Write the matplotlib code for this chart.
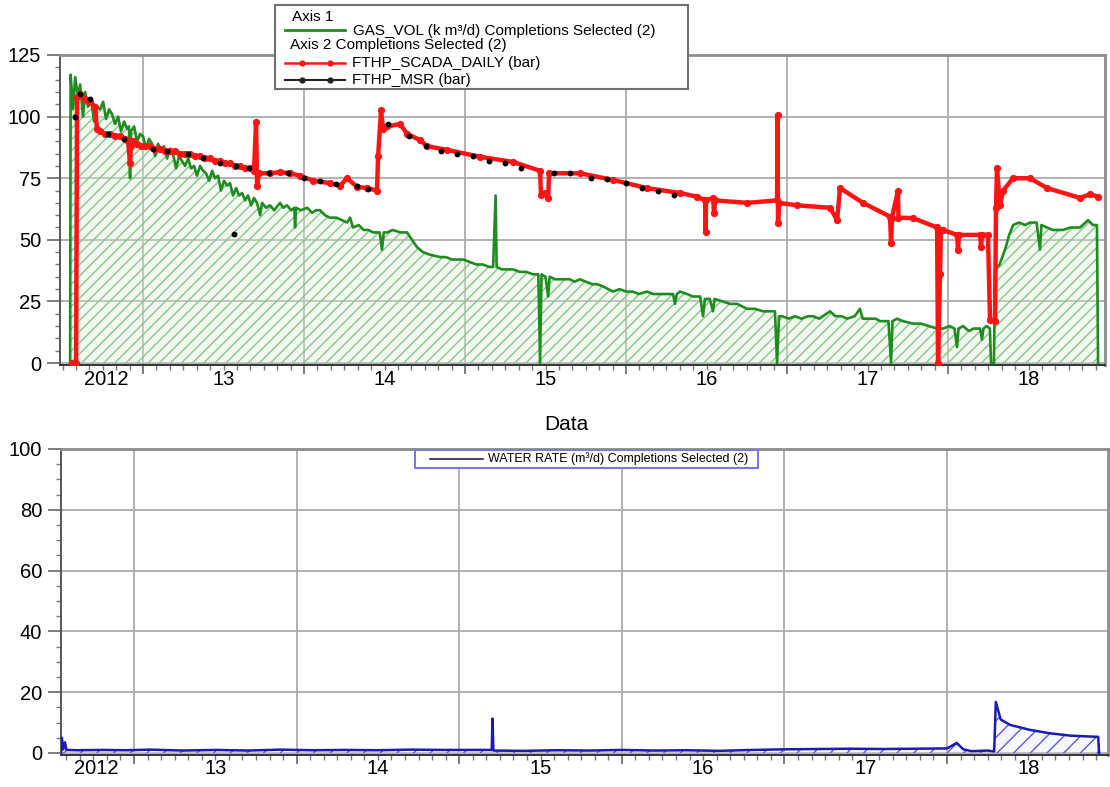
import matplotlib
matplotlib.use('Agg')
import matplotlib.pyplot as plt
import matplotlib.transforms as mtransforms
from matplotlib.patches import Rectangle
from matplotlib.lines import Line2D
from matplotlib.ticker import MultipleLocator, FixedLocator, NullFormatter

plt.rcParams['font.family'] = ['Liberation Sans', 'DejaVu Sans']

# ---- data (decimal years) ---------------------------------------------------
gas_t = [2012.547, 2012.550, 2012.565, 2012.578, 2012.596, 2012.609, 2012.627, 2012.640, 2012.658, 2012.677,
         2012.696, 2012.714, 2012.733, 2012.752, 2012.770, 2012.789, 2012.807, 2012.826, 2012.845, 2012.863,
         2012.882, 2012.901, 2012.913, 2012.919, 2012.925, 2012.944, 2012.963, 2012.981, 2013.000, 2013.019,
         2013.037, 2013.056, 2013.075, 2013.093, 2013.112, 2013.130, 2013.149, 2013.168, 2013.186, 2013.205,
         2013.224, 2013.242, 2013.261, 2013.280, 2013.298, 2013.317, 2013.335, 2013.354, 2013.373, 2013.391,
         2013.410, 2013.429, 2013.447, 2013.466, 2013.484, 2013.503, 2013.522, 2013.540, 2013.559, 2013.578,
         2013.596, 2013.615, 2013.634, 2013.652, 2013.671, 2013.689, 2013.708, 2013.727, 2013.739, 2013.764,
         2013.789, 2013.814, 2013.839, 2013.851, 2013.870, 2013.894, 2013.920, 2013.940, 2013.944, 2013.950,
         2013.980, 2014.019, 2014.050, 2014.075, 2014.099, 2014.130, 2014.161, 2014.200, 2014.235, 2014.267,
         2014.286, 2014.304, 2014.340, 2014.370, 2014.400, 2014.429, 2014.470, 2014.484, 2014.495, 2014.516,
         2014.550, 2014.600, 2014.640, 2014.670, 2014.702, 2014.739, 2014.780, 2014.845, 2014.880, 2014.920,
         2014.960, 2014.988, 2015.030, 2015.070, 2015.110, 2015.150, 2015.174, 2015.190, 2015.196, 2015.230,
         2015.270, 2015.298, 2015.340, 2015.380, 2015.422, 2015.455, 2015.466, 2015.475, 2015.500, 2015.516,
         2015.525, 2015.560, 2015.609, 2015.650, 2015.680, 2015.714, 2015.750, 2015.790, 2015.820, 2015.860,
         2015.890, 2015.919, 2015.960, 2016.000, 2016.040, 2016.080, 2016.130, 2016.170, 2016.210, 2016.250,
         2016.292, 2016.304, 2016.315, 2016.335, 2016.380, 2016.416, 2016.460, 2016.478, 2016.490, 2016.520,
         2016.540, 2016.550, 2016.600, 2016.646, 2016.690, 2016.752, 2016.800, 2016.851, 2016.900, 2016.925,
         2016.938, 2016.950, 2016.969, 2017.010, 2017.050, 2017.090, 2017.130, 2017.161, 2017.200, 2017.267,
         2017.300, 2017.340, 2017.373, 2017.420, 2017.453, 2017.470, 2017.510, 2017.550, 2017.578, 2017.630,
         2017.646, 2017.655, 2017.683, 2017.720, 2017.783, 2017.830, 2017.880, 2017.932, 2017.970, 2018.010,
         2018.040, 2018.056, 2018.065, 2018.093, 2018.130, 2018.160, 2018.199, 2018.211, 2018.220, 2018.240,
         2018.260, 2018.267, 2018.285, 2018.292, 2018.320, 2018.354, 2018.380, 2018.404, 2018.440, 2018.480,
         2018.509, 2018.550, 2018.571, 2018.580, 2018.615, 2018.650, 2018.714, 2018.760, 2018.820, 2018.870,
         2018.900, 2018.925, 2018.932]
gas_v = [0, 117, 103, 116, 108, 113, 100, 110, 104, 107,
         98, 104, 103, 106, 99, 103, 101, 97, 100, 94,
         98, 95, 96, 75, 94, 96, 90, 93, 92, 87,
         91, 89, 84, 89, 86, 88, 83, 87, 85, 79,
         84, 82, 80, 83, 79, 80, 76, 80, 78, 77,
         74, 78, 75, 76, 70, 74, 72, 73, 68, 71,
         68, 69, 66, 68, 64, 67, 65, 60, 65, 63,
         64, 62, 64, 65, 63, 64, 62, 63, 55, 63,
         62, 63, 61, 62, 62, 60, 59, 59, 58, 57,
         59, 55, 56, 54, 54, 53, 53, 46, 53, 53,
         54, 53, 53, 50, 47, 45, 44, 43, 43, 42,
         42, 42, 41, 40, 40, 39, 39, 68, 39, 38,
         38, 38, 37, 37, 36, 36, 0, 36, 35, 27,
         35, 34, 34, 34, 33, 34, 33, 32, 32, 31,
         30, 29, 30, 29, 29, 28, 29, 28, 28, 28,
         28, 24, 28, 29, 28, 27, 27, 19, 26, 26,
         21, 26, 25, 24, 24, 22, 22, 21, 21, 21,
         0, 19, 19, 18, 19, 18, 19, 19, 18, 21,
         19, 19, 18, 19, 22, 18, 18, 18, 17, 17,
         0, 17, 18, 17, 16, 16, 15, 14, 14, 15,
         14, 6.5, 14, 15, 13, 14, 14, 9.5, 14, 15,
         14, 0, 0, 38, 40, 46, 52, 56, 57, 56,
         57, 57, 46, 56, 55, 54, 54, 55, 55, 58,
         56, 56, 0]

scada_t = [2012.559, 2012.584, 2012.590, 2012.609, 2012.640, 2012.671, 2012.702, 2012.714, 2012.733, 2012.764,
           2012.795, 2012.826, 2012.857, 2012.888, 2012.907, 2012.919, 2012.925, 2012.938, 2012.963, 2012.988,
           2013.012, 2013.043, 2013.075, 2013.106, 2013.137, 2013.168, 2013.199, 2013.230, 2013.261, 2013.292,
           2013.323, 2013.354, 2013.385, 2013.416, 2013.447, 2013.478, 2013.509, 2013.540, 2013.571, 2013.602,
           2013.634, 2013.665, 2013.689, 2013.702, 2013.708, 2013.720, 2013.789, 2013.851, 2013.913, 2013.975,
           2014.056, 2014.161, 2014.224, 2014.267, 2014.329, 2014.391, 2014.453, 2014.460, 2014.478, 2014.491,
           2014.516, 2014.596, 2014.640, 2014.720, 2014.764, 2014.888, 2015.093, 2015.298, 2015.466, 2015.472,
           2015.497, 2015.516, 2015.522, 2015.714, 2015.919, 2016.130, 2016.335, 2016.441, 2016.491, 2016.494,
           2016.497, 2016.540, 2016.547, 2016.553, 2016.752, 2016.938, 2016.941, 2016.944, 2016.950, 2017.062,
           2017.267, 2017.311, 2017.329, 2017.472, 2017.640, 2017.646, 2017.652, 2017.689, 2017.692, 2017.783,
           2017.932, 2017.938, 2017.950, 2017.956, 2017.969, 2018.056, 2018.062, 2018.068, 2018.199, 2018.205,
           2018.211, 2018.248, 2018.261, 2018.292, 2018.298, 2018.304, 2018.323, 2018.342, 2018.404, 2018.509,
           2018.615, 2018.820, 2018.882, 2018.932]
scada_v = [0, 0, 108, 109, 107, 106, 104, 95, 94, 93,
           93, 92, 92, 91, 90, 81, 88, 90, 89, 88,
           88, 88, 87, 87, 86, 86, 86, 85, 85, 85,
           84, 84, 83, 83, 82, 82, 81, 81, 80, 80,
           79, 79, 78, 98, 72, 77, 77, 77.5, 77, 76,
           74, 73, 72, 75, 71.5, 71, 70, 84, 102.5, 95,
           96, 97, 93, 90.5, 88, 86.5, 83.7, 81.6, 78, 68,
           69, 67, 77, 77, 74.3, 71, 69, 67.5, 66, 53,
           66, 67, 61, 66, 65, 66, 100.5, 57, 65, 64,
           63, 58, 71, 65, 59.4, 48.7, 59, 70, 59, 58.8,
           55, 0, 36, 54, 54, 52, 46, 52, 52, 47,
           52, 52, 17.5, 17, 63, 79, 64, 70, 75, 75,
           71, 67, 68.5, 67.5]

msr_t = [2012.578, 2012.609, 2012.670, 2012.780, 2012.880, 2013.060, 2013.150, 2013.280, 2013.370, 2013.480,
         2013.562, 2013.580, 2013.660, 2013.780, 2013.900, 2014.000, 2014.100, 2014.200, 2014.330, 2014.400,
         2014.520, 2014.650, 2014.760, 2014.850, 2014.950, 2015.050, 2015.150, 2015.250, 2015.350, 2015.550,
         2015.650, 2015.780, 2015.880, 2016.000, 2016.100, 2016.200, 2016.300]
msr_v = [100, 109, 107, 93, 91, 87, 86, 85, 83, 81,
         52.5, 80, 79, 77, 77, 75, 74, 72.5, 72, 70.5,
         97, 92, 88, 86, 85, 84, 82, 81, 79, 77,
         77, 75, 74.5, 73, 71, 70, 68]

water_t = [2012.552, 2012.556, 2012.565, 2012.575, 2012.585, 2012.650, 2012.800, 2012.950, 2013.100, 2013.300,
           2013.500, 2013.700, 2013.900, 2014.100, 2014.300, 2014.500, 2014.700, 2014.900, 2015.100, 2015.200,
           2015.205, 2015.210, 2015.400, 2015.600, 2015.800, 2016.000, 2016.200, 2016.400, 2016.600, 2016.800,
           2017.000, 2017.200, 2017.400, 2017.600, 2017.800, 2018.000, 2018.060, 2018.100, 2018.150, 2018.250,
           2018.290, 2018.300, 2018.330, 2018.390, 2018.510, 2018.630, 2018.760, 2018.930, 2018.935]
water_v = [0, 5, 1.2, 3.5, 1, 0.9, 1.0, 0.9, 1.1, 0.8,
           1.0, 0.8, 1.1, 0.9, 1.0, 0.9, 1.1, 1.0, 1.0, 1.0,
           11.3, 0.8, 0.7, 0.9, 0.8, 1.0, 0.8, 0.9, 0.7, 1.0,
           1.2, 1.3, 1.4, 1.3, 1.4, 1.5, 3.3, 1.2, 0.6, 0.8,
           0.5, 16.8, 11, 9.2, 7.6, 6.5, 5.7, 5.3, 0]

years = [2013, 2014, 2015, 2016, 2017, 2018]
year_labels = ['2012', '13', '14', '15', '16', '17', '18']
label_pos = [2012.77, 2013.5, 2014.5, 2015.5, 2016.5, 2017.5, 2018.5]

# ---- figure -------------------------------------------------------------------
W, H = 1110, 787
fig = plt.figure(figsize=(W / 100, H / 100), dpi=100)


def fx(px):
    return px / W


def fy(py):
    return 1 - py / H


ax1 = fig.add_axes([fx(60), fy(365), (1105 - 60) / W, (365 - 55) / H])
ax2 = fig.add_axes([fx(61), fy(754.5), (1108 - 61) / W, (754.5 - 449) / H])

months = [2012 + m / 12 for m in range(6, 12 * 7 + 1)]


def style(ax, xlim, ylim, ystep, hpx):
    ax.set_xlim(*xlim)
    ax.set_ylim(*ylim)
    ax.xaxis.set_major_locator(FixedLocator(years))
    ax.xaxis.set_major_formatter(NullFormatter())
    ax.xaxis.set_minor_locator(FixedLocator(months))
    ax.yaxis.set_major_locator(MultipleLocator(ystep))
    ax.yaxis.set_minor_locator(MultipleLocator(5))
    ax.grid(True, which='major', color='#ababab', lw=1.3)
    ax.set_axisbelow(True)
    ax.tick_params(axis='y', which='major', direction='out', length=9.5, width=1.2,
                   color='#666666', labelsize=14.5, pad=4)
    ax.tick_params(axis='x', which='major', direction='out', length=6.5, width=1.2, color='#666666')
    ax.tick_params(axis='both', which='minor', direction='out', length=3.5, width=1, color='#777777')
    for s in ['top', 'right']:
        ax.spines[s].set_color('#8c8c8c')
        ax.spines[s].set_linewidth(2)
    ax.spines['left'].set_color('#555555')
    ax.spines['left'].set_linewidth(1.4)
    ax.spines['bottom'].set_color('#333333')
    ax.spines['bottom'].set_linewidth(1.4)
    trans = mtransforms.blended_transform_factory(ax.transData, ax.transAxes)
    for xp, lab in zip(label_pos, year_labels):
        ax.text(xp, -5 / hpx, lab, transform=trans, ha='center', va='top', fontsize=14.5)


style(ax1, (2012.484, 2018.975), (-0.8, 125), 25, 310)
style(ax2, (2012.551, 2018.990), (-0.5, 100), 20, 305.5)

# top panel
ax1.fill_between(gas_t, gas_v, 0, facecolor=(0.85, 0.94, 0.85, 0.35), edgecolor='#8cc48c',
                 hatch='///', linewidth=0, zorder=2)
ax1.plot(gas_t, gas_v, color='#1f8c1f', lw=1.9, zorder=3)
ax1.plot(scada_t, scada_v, color='#ff1414', lw=3.2, marker='o', ms=4.2, zorder=4)
ax1.plot(msr_t, msr_v, ls='none', marker='o', ms=3.2, color='black', zorder=5)

# bottom panel
ax2.fill_between(water_t, water_v, 0, facecolor=(0.9, 0.9, 1.0, 0.3), edgecolor='#5a5ad0',
                 hatch='//', linewidth=0, zorder=2)
ax2.plot(water_t, water_v, color='#1a1ab4', lw=1.8, zorder=3)

fig.text(fx(566), fy(425), 'Data', ha='center', va='center', fontsize=15)

# top legend box
fig.add_artist(Rectangle((fx(275), fy(89)), (688 - 275) / W, (89 - 5) / H, transform=fig.transFigure,
                         facecolor='white', edgecolor='#707070', lw=1.5, zorder=10))
fig.text(fx(292), fy(17), 'Axis 1', ha='left', va='center', fontsize=11, zorder=11)
fig.add_artist(Line2D([fx(285), fx(345)], [fy(30), fy(30)], transform=fig.transFigure,
                      color='#1f8c1f', lw=2, zorder=11))
fig.text(fx(353), fy(31), 'GAS_VOL (k m³/d) Completions Selected (2)', ha='left', va='center',
         fontsize=11, zorder=11)
fig.text(fx(290), fy(45), 'Axis 2 Completions Selected (2)', ha='left', va='center', fontsize=11, zorder=11)
fig.add_artist(Line2D([fx(285), fx(302), fx(330), fx(345)], [fy(63)] * 4, transform=fig.transFigure,
                      color='#ff1414', lw=1.8, marker='o', ms=3.5, markevery=[1, 2], zorder=11))
fig.text(fx(352), fy(63), 'FTHP_SCADA_DAILY (bar)', ha='left', va='center', fontsize=11, zorder=11)
fig.add_artist(Line2D([fx(285), fx(302), fx(330), fx(345)], [fy(80)] * 4, transform=fig.transFigure,
                      color='#222222', lw=1.5, marker='o', ms=3.5, markevery=[1, 2], zorder=11))
fig.text(fx(352), fy(80), 'FTHP_MSR (bar)', ha='left', va='center', fontsize=11, zorder=11)

# bottom legend box
fig.add_artist(Rectangle((fx(415), fy(468)), (758 - 415) / W, (468 - 450) / H, transform=fig.transFigure,
                         facecolor='white', edgecolor='#7a7adc', lw=1.5, zorder=10))
fig.add_artist(Line2D([fx(430), fx(483)], [fy(459), fy(459)], transform=fig.transFigure,
                      color='#20205a', lw=1.2, zorder=11))
fig.text(fx(488), fy(459), 'WATER RATE (m³/d) Completions Selected (2)', ha='left', va='center',
         fontsize=9, zorder=11)

fig.savefig('out.png', dpi=100)
